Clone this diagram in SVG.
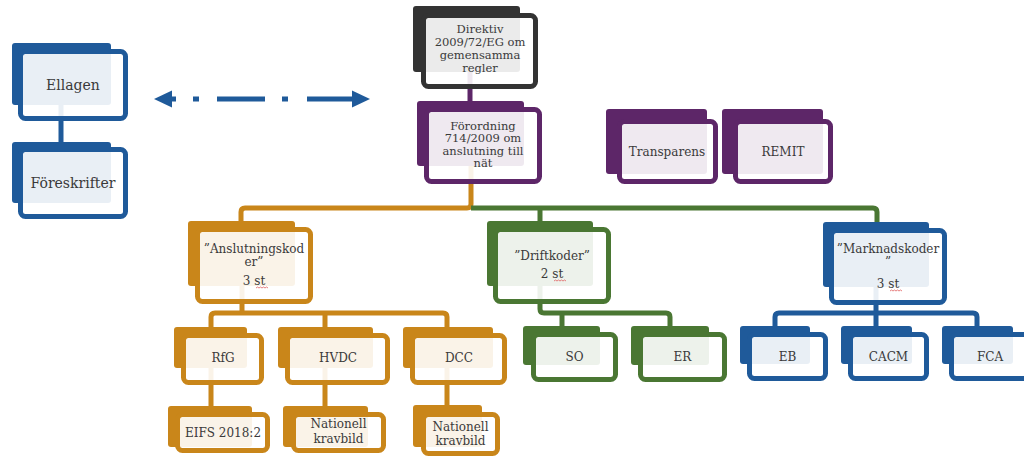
<svg xmlns="http://www.w3.org/2000/svg" width="1024" height="456" viewBox="0 0 1024 456">
<defs>
<style>
.c{fill:none;stroke-width:5;stroke-linejoin:round}
.bk{stroke:none}
.fr{fill:#fff;fill-opacity:0.9;stroke-width:5}
.t{font-family:"DejaVu Serif","Liberation Serif",serif;font-size:12px;fill:#3a3a3a;text-anchor:middle}
.t14{font-size:14px}
.blue .bk{fill:#1f5a9a}.blue .fr{stroke:#1f5a9a}
.dark .bk{fill:#333333}.dark .fr{stroke:#333333}
.purple .bk{fill:#5d2668}.purple .fr{stroke:#5d2668}
.orange .bk{fill:#c9861a}.orange .fr{stroke:#c9861a}
.green .bk{fill:#4a7733}.green .fr{stroke:#4a7733}
.sq{fill:none;stroke:#e06060;stroke-width:0.8}
</style>
<marker id="ah" markerUnits="userSpaceOnUse" markerWidth="20" markerHeight="20" refX="0" refY="9" orient="auto-start-reverse" viewBox="0 0 20 18">
<path d="M0,0.5 L18,9 L0,17.5 z" fill="#1f5a9a"/>
</marker>
</defs>
<g id="connectors">
<path class="c" stroke="#1f5a9a" d="M61,105 V142"/>
<path class="c" stroke="#5d2668" d="M470,72 V101"/>
<path class="c" stroke="#c9861a" d="M471,166 V204 Q471,208 467,208 H245 Q241,208 241,212 V222"/>
<path class="c" stroke="#4a7733" d="M471,208 H873 Q877,208 877,212 V223 M540,208 V222"/>
<path class="c" stroke="#c9861a" d="M242,286 V314 M211,328 V317 Q211,313 215,313 H443 Q447,313 447,317 V328 M325,313 V328"/>
<path class="c" stroke="#c9861a" d="M211,368 V407 M325,368 V407 M447,368 V406"/>
<path class="c" stroke="#4a7733" d="M540,286 V309 Q540,313 544,313 H666 Q670,313 670,317 V327 M562,313 V327"/>
<path class="c" stroke="#1f5a9a" d="M876,287 V314 M775,327 V317 Q775,313 779,313 H973 Q977,313 977,317 V327 M876,313 V327"/>
<path id="double-arrow" fill="none" stroke="#1f5a9a" stroke-width="5" d="M172,99 H352" stroke-dasharray="4 17 6 18 48 17 6 19 45" marker-start="url(#ah)" marker-end="url(#ah)"/>
</g>
<g id="ellagen" class="blue">
<rect class="bk" x="12" y="43" width="99" height="62" rx="3"/>
<rect class="fr" x="20.5" y="51.5" width="105" height="67" rx="5"/>
<text class="t t14" x="73" y="90">Ellagen</text>
</g>
<g id="foreskrifter" class="blue">
<rect class="bk" x="12" y="142" width="99" height="61" rx="3"/>
<rect class="fr" x="20.5" y="149.5" width="105" height="67" rx="5"/>
<text class="t t14" x="73" y="188">Föreskrifter</text>
</g>
<g id="direktiv" class="dark">
<rect class="bk" x="413" y="6" width="107" height="66" rx="3"/>
<rect class="fr" x="423.5" y="15.5" width="112" height="71" rx="5"/>
<text class="t" style="font-size:11.5px" x="480" y="33">Direktiv<tspan x="480" y="46">2009/72/EG om</tspan><tspan x="480" y="59">gemensamma</tspan><tspan x="480" y="72">regler</tspan></text>
</g>
<g id="forordning" class="purple">
<rect class="bk" x="417" y="101" width="107" height="65" rx="3"/>
<rect class="fr" x="426.5" y="109.5" width="113" height="72" rx="5"/>
<text class="t" style="font-size:11.5px" x="483" y="129.5">Förordning<tspan x="483" y="142">714/2009 om</tspan><tspan x="483" y="154.5">anslutning till</tspan><tspan x="483" y="167">nät</tspan></text>
</g>
<g id="transparens" class="purple">
<rect class="bk" x="606" y="109" width="101" height="65" rx="3"/>
<rect class="fr" x="619.5" y="121.5" width="96" height="60" rx="5"/>
<text class="t" x="667" y="156">Transparens</text>
</g>
<g id="remit" class="purple">
<rect class="bk" x="722" y="109" width="101" height="65" rx="3"/>
<rect class="fr" x="735.5" y="121.5" width="95" height="60" rx="5"/>
<text class="t" x="783" y="156">REMIT</text>
</g>
<g id="anslutningskoder" class="orange">
<rect class="bk" x="188" y="221" width="107" height="65" rx="3"/>
<rect class="fr" x="197.5" y="229.5" width="113" height="72" rx="5"/>
<text class="t" x="254" y="253">”Anslutningskod<tspan x="254" y="266">er”</tspan><tspan x="254" y="285">3 st</tspan></text>
<path class="sq" d="M256,288 l1.5,-1 l1.5,1 l1.5,-1 l1.5,1 l1.5,-1 l1.5,1 l1.5,-1 l1.5,1"/>
</g>
<g id="driftkoder" class="green">
<rect class="bk" x="487" y="221" width="106" height="65" rx="3"/>
<rect class="fr" x="495.5" y="229.5" width="113" height="72" rx="5"/>
<text class="t" x="552" y="260">”Driftkoder”<tspan x="552" y="278">2 st</tspan></text>
<path class="sq" d="M554,281 l1.5,-1 l1.5,1 l1.5,-1 l1.5,1 l1.5,-1 l1.5,1 l1.5,-1 l1.5,1"/>
</g>
<g id="marknadskoder" class="blue">
<rect class="bk" x="823" y="222" width="106" height="65" rx="3"/>
<rect class="fr" x="831.5" y="230.5" width="113" height="72" rx="5"/>
<text class="t" x="888" y="253">”Marknadskoder<tspan x="888" y="266">”</tspan><tspan x="888" y="288">3 st</tspan></text>
<path class="sq" d="M890,291 l1.5,-1 l1.5,1 l1.5,-1 l1.5,1 l1.5,-1 l1.5,1 l1.5,-1 l1.5,1"/>
</g>
<g id="rfg" class="orange">
<rect class="bk" x="174" y="327" width="73" height="41" rx="3"/>
<rect class="fr" x="183.5" y="335.5" width="78" height="47" rx="5"/>
<text class="t" x="223" y="362">RfG</text>
</g>
<g id="hvdc" class="orange">
<rect class="bk" x="278" y="327" width="95" height="41" rx="3"/>
<rect class="fr" x="287.5" y="335.5" width="100" height="47" rx="5"/>
<text class="t" x="338" y="362">HVDC</text>
</g>
<g id="dcc" class="orange">
<rect class="bk" x="403" y="327" width="90" height="41" rx="3"/>
<rect class="fr" x="412.5" y="335.5" width="92" height="47" rx="5"/>
<text class="t" x="459" y="362">DCC</text>
</g>
<g id="eifs" class="orange">
<rect class="bk" x="168" y="406" width="84" height="41" rx="3"/>
<rect class="fr" x="177.5" y="414.5" width="90" height="36" rx="5"/>
<text class="t" x="223" y="437">EIFS 2018:2</text>
</g>
<g id="nationell-hvdc" class="orange">
<rect class="bk" x="283" y="406" width="85" height="41" rx="3"/>
<rect class="fr" x="293.5" y="414.5" width="90" height="36" rx="5"/>
<text class="t" x="338.5" y="428">Nationell<tspan x="338.5" y="443">kravbild</tspan></text>
</g>
<g id="nationell-dcc" class="orange">
<rect class="bk" x="413" y="405" width="69" height="42" rx="3"/>
<rect class="fr" x="423.5" y="414.5" width="74" height="39" rx="5"/>
<text class="t" x="460.5" y="431">Nationell<tspan x="460.5" y="445">kravbild</tspan></text>
</g>
<g id="so" class="green">
<rect class="bk" x="523" y="326" width="77" height="39" rx="3"/>
<rect class="fr" x="533.5" y="334.5" width="82" height="45" rx="5"/>
<text class="t" x="574.5" y="361">SO</text>
</g>
<g id="er" class="green">
<rect class="bk" x="631" y="326" width="78" height="39" rx="3"/>
<rect class="fr" x="640.5" y="334.5" width="84" height="45" rx="5"/>
<text class="t" x="682.5" y="361">ER</text>
</g>
<g id="eb" class="blue">
<rect class="bk" x="740" y="326" width="70" height="38" rx="3"/>
<rect class="fr" x="749.5" y="334.5" width="76" height="44" rx="5"/>
<text class="t" x="787.5" y="361">EB</text>
</g>
<g id="cacm" class="blue">
<rect class="bk" x="841" y="326" width="71" height="38" rx="3"/>
<rect class="fr" x="850.5" y="334.5" width="76" height="44" rx="5"/>
<text class="t" x="888.5" y="361">CACM</text>
</g>
<g id="fca" class="blue">
<rect class="bk" x="942" y="326" width="71" height="38" rx="3"/>
<rect class="fr" x="951.5" y="334.5" width="77" height="44" rx="5"/>
<text class="t" x="990" y="361">FCA</text>
</g>
</svg>
